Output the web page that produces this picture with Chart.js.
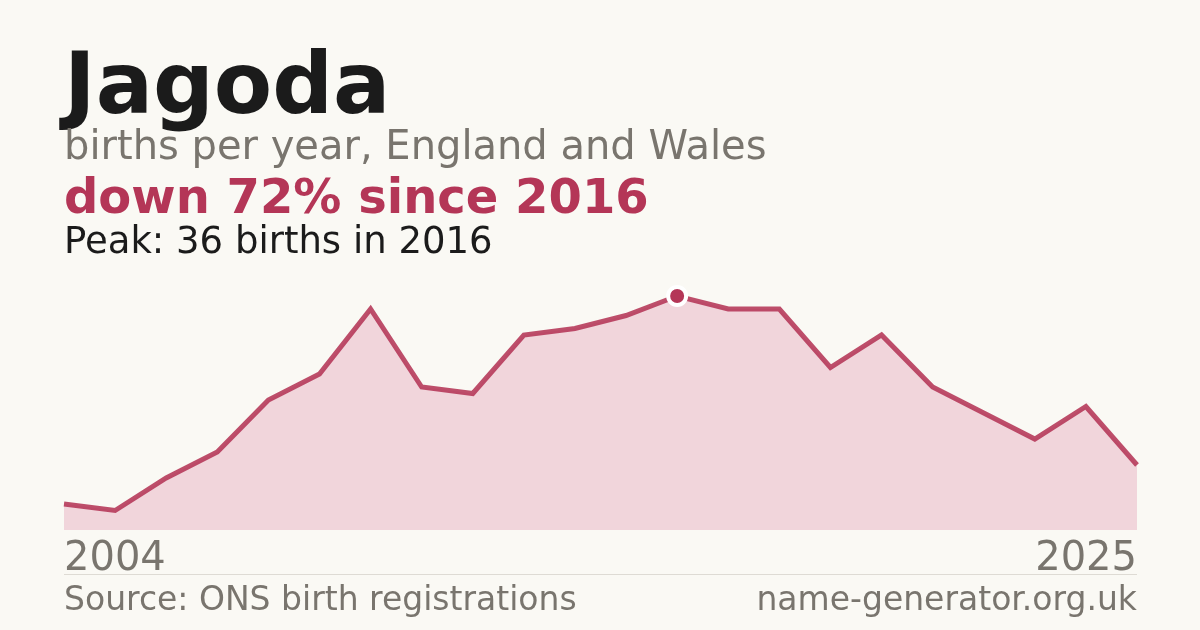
<!DOCTYPE html>
<html>
<head>
<meta charset="utf-8">
<script src="https://cdn.jsdelivr.net/npm/chart.js@4"></script>
<style>
    html, body { margin: 0; padding: 0; }
    body {
        width: 1200px; height: 630px; position: relative; overflow: hidden;
        background: #faf9f4; font-family: "DejaVu Sans", sans-serif;
    }
    canvas { position: absolute; left: 0; top: 0; }
    .txt { position: absolute; left: 64px; line-height: 1; white-space: nowrap; }
    #title { top: 41px; font-size: 85px; font-weight: bold; color: #1b1b1b; }
    #subtitle { top: 125px; font-size: 40px; color: #79756e; }
    #change { top: 172px; font-size: 48px; font-weight: bold; color: #b43657; }
    #peak { top: 222px; font-size: 37px; color: #1b1b1b; }
    #rule { position: absolute; left: 64px; width: 1073px; top: 574px; height: 1px; background: #dedbd4; }
    .foot { top: 582px; font-size: 33px; color: #79756e; }
    #site { left: auto; right: 63px; }
</style>
</head>
<body>
<canvas id="nameChart" width="1200" height="630"></canvas>
<div class="txt" id="title">Jagoda</div>
<div class="txt" id="subtitle">births per year, England and Wales</div>
<div class="txt" id="change">down 72% since 2016</div>
<div class="txt" id="peak">Peak: 36 births in 2016</div>
<div id="rule"></div>
<div class="txt foot">Source: ONS birth registrations</div>
<div class="txt foot" id="site">name-generator.org.uk</div>
<script>
// Datos
const years = ['2004', '2005', '2006', '2007', '2008', '2009', '2010', '2011', '2012', '2013', '2014',
               '2015', '2016', '2017', '2018', '2019', '2020', '2021', '2022', '2023', '2024', '2025'];
const births = [4, 3, 8, 12, 20, 24, 34, 22, 21, 30, 31, 33, 36, 34, 34, 25, 30, 22, 18, 14, 19, 10];

const lineColor = '#b43657';
const peakIndex = births.indexOf(Math.max(...births));

// Solo el pico lleva punto
const radii = births.map((v, i) => i === peakIndex ? 9 : 0);

new Chart(document.getElementById('nameChart').getContext('2d'), {
    type: 'line',
    data: {
        labels: years,
        datasets: [{
            data: births,
            borderColor: 'rgba(180, 54, 87, 0.88)',
            backgroundColor: '#f1d5db',
            borderWidth: 5,
            borderJoinStyle: 'miter',
            fill: 'origin',
            tension: 0,
            pointRadius: radii,
            pointBackgroundColor: lineColor,
            pointBorderColor: '#ffffff',
            pointBorderWidth: 4,
            pointHoverRadius: 0
        }]
    },
    options: {
        responsive: false,
        animation: false,
        devicePixelRatio: 1,
        layout: { padding: { left: 64, right: 63, top: 270, bottom: 40 } },
        plugins: { legend: { display: false }, tooltip: { enabled: false } },
        scales: {
            y: { display: false, min: 0, max: 40 },
            x: {
                offset: false,
                grid: { display: false, drawTicks: false },
                border: { display: false },
                ticks: {
                    autoSkip: false,
                    maxRotation: 0,
                    align: 'inner',
                    padding: 6,
                    color: '#79756e',
                    font: { family: 'DejaVu Sans', size: 40 },
                    callback: function(value, index) {
                        return (index === 0 || index === years.length - 1) ? years[index] : '';
                    }
                }
            }
        }
    }
});
</script>
</body>
</html>
